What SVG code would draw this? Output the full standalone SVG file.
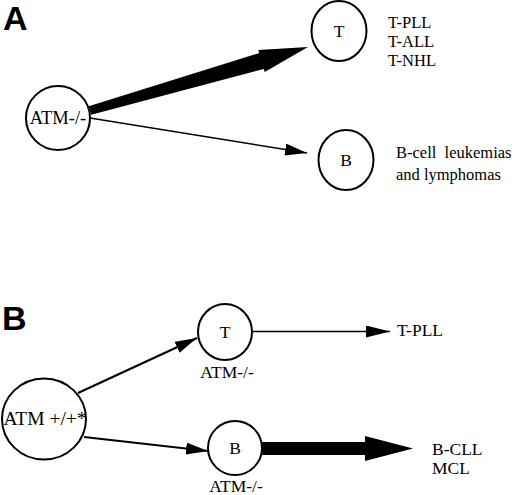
<svg xmlns="http://www.w3.org/2000/svg" width="520" height="495" viewBox="0 0 520 495">
<style>
.node{fill:#fff;stroke:#000;stroke-width:2}
.t{font-family:"Liberation Serif","Times New Roman",serif;fill:#000}
.lbl{font-family:"Liberation Sans",Arial,sans-serif;font-weight:bold;font-size:34px;fill:#000}
.ln{stroke:#000;fill:none}
</style>
<defs>
<marker id="ah" viewBox="0 0 22 12" refX="22" refY="6" markerWidth="22" markerHeight="12" markerUnits="userSpaceOnUse" orient="auto">
<path d="M0,0 L22,6 L0,12 z" fill="#000"/>
</marker>
<marker id="ahB" viewBox="0 0 24 12" refX="24" refY="6" markerWidth="24" markerHeight="12" markerUnits="userSpaceOnUse" orient="auto">
<path d="M0,0 L24,6 L0,12 z" fill="#000"/>
</marker>
</defs>
<rect width="520" height="495" fill="#fff"/>
<text class="lbl" x="3" y="30">A</text>
<text class="lbl" x="2" y="330">B</text>
<g id="connectors">
<polygon points="88.7,106.2 259.2,53.1 258.3,50.0 308,47 264.7,72.0 263.8,68.9 91.3,114.8" fill="#000"/>
<line class="ln" x1="90" y1="118" x2="307" y2="153" stroke-width="1.5" marker-end="url(#ah)"/>
<line class="ln" x1="78" y1="393" x2="197" y2="338" stroke-width="2.2" marker-end="url(#ah)"/>
<line class="ln" x1="84" y1="437" x2="208" y2="451" stroke-width="2" marker-end="url(#ah)"/>
<line class="ln" x1="252" y1="331.5" x2="390" y2="331.5" stroke-width="1.5" marker-end="url(#ahB)"/>
<polygon points="261,442 365,442 365,436 413,448.5 365,461 365,455 261,455" fill="#000"/>
</g>
<g id="node-atm-a">
<ellipse class="node" cx="58" cy="118" rx="32" ry="32"/>
<text class="t" x="58" y="124" font-size="18.5" text-anchor="middle">ATM-/-</text>
</g>
<g id="node-t-a">
<ellipse class="node" cx="339" cy="31" rx="27.5" ry="30"/>
<text class="t" x="339" y="37" font-size="17.5" text-anchor="middle">T</text>
</g>
<g id="node-b-a">
<ellipse class="node" cx="346" cy="160" rx="27.5" ry="30"/>
<text class="t" x="346" y="166" font-size="17.5" text-anchor="middle">B</text>
</g>
<g id="text-t-a">
<text class="t" x="388" y="28" font-size="16.5">T-PLL</text>
<text class="t" x="388" y="47" font-size="16.5">T-ALL</text>
<text class="t" x="388" y="66" font-size="16.5">T-NHL</text>
</g>
<g id="text-b-a">
<text class="t" x="396" y="158" font-size="16.5" xml:space="preserve">B-cell  leukemias</text>
<text class="t" x="396" y="180" font-size="16.5">and lymphomas</text>
</g>
<g id="node-atm-b">
<ellipse class="node" cx="44" cy="419" rx="42" ry="40.5"/>
<text class="t" x="45" y="425" font-size="19.5" text-anchor="middle">ATM +/+*</text>
</g>
<g id="node-t-b">
<ellipse class="node" cx="225" cy="332" rx="27" ry="28"/>
<text class="t" x="225" y="338" font-size="17.5" text-anchor="middle">T</text>
<text class="t" x="227" y="378" font-size="17.5" text-anchor="middle">ATM-/-</text>
</g>
<g id="node-b-b">
<ellipse class="node" cx="235" cy="448" rx="27" ry="27"/>
<text class="t" x="235" y="454" font-size="17.5" text-anchor="middle">B</text>
<text class="t" x="236" y="492" font-size="17.5" text-anchor="middle">ATM-/-</text>
</g>
<g id="text-b">
<text class="t" x="397" y="336" font-size="17.5">T-PLL</text>
<text class="t" x="432" y="455" font-size="17.5">B-CLL</text>
<text class="t" x="432" y="474" font-size="17.5">MCL</text>
</g>
</svg>
